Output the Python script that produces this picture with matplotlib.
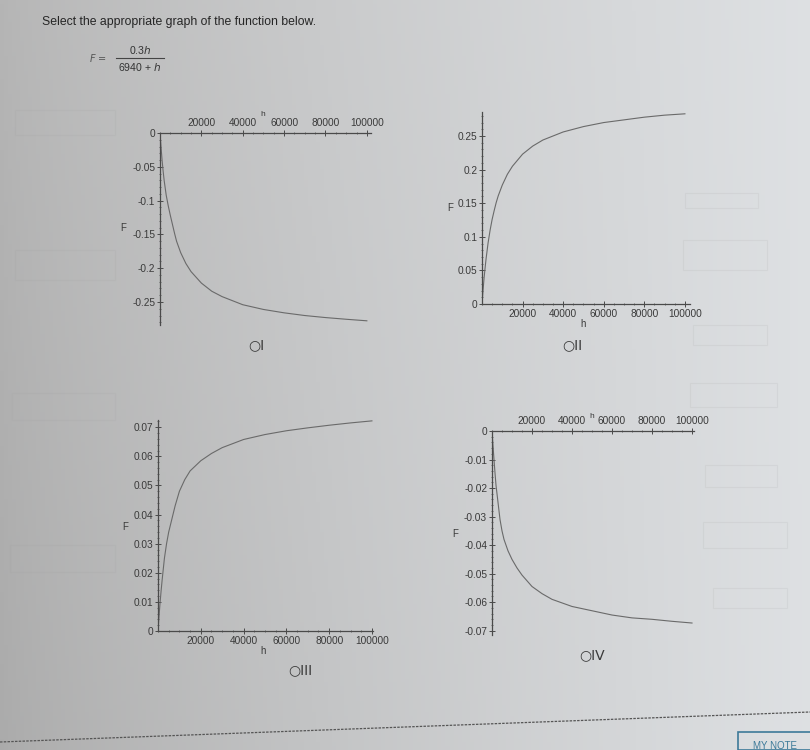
import numpy as np
import matplotlib
matplotlib.use("Agg")
import matplotlib.pyplot as plt
from matplotlib.lines import Line2D
from matplotlib.patches import Rectangle
from matplotlib.ticker import MultipleLocator

plt.rcParams['font.family'] = ['Liberation Sans', 'DejaVu Sans']

# ---------------- data ----------------
h_vals = [0, 250, 500, 1000, 1500, 2000, 3000, 4000, 5000, 6000, 7000, 8000, 10000, 12500, 15000,
          20000, 25000, 30000, 40000, 50000, 60000, 70000, 80000, 90000, 100000]

F_I = [0, -0.011, -0.021, -0.040, -0.056, -0.070, -0.092, -0.108, -0.122, -0.135, -0.148, -0.160,
       -0.177, -0.193, -0.205, -0.222, -0.234, -0.242, -0.254, -0.261, -0.266, -0.270, -0.273,
       -0.2755, -0.2778]
F_II = [0, 0.010, 0.020, 0.038, 0.053, 0.067, 0.091, 0.110, 0.126, 0.139, 0.151, 0.161,
        0.177, 0.193, 0.205, 0.223, 0.235, 0.244, 0.256, 0.264, 0.270, 0.274, 0.278, 0.281, 0.283]
F_III = [0, 0.0027, 0.0053, 0.010, 0.0142, 0.018, 0.025, 0.030, 0.034, 0.037, 0.040, 0.043,
         0.048, 0.052, 0.055, 0.0585, 0.0610, 0.0630, 0.0658, 0.0675, 0.0688, 0.0698, 0.0707,
         0.0715, 0.0722]
F_IV = [0, -0.0027, -0.0052, -0.010, -0.0147, -0.019, -0.025, -0.031, -0.035, -0.038, -0.040,
        -0.042, -0.045, -0.048, -0.0505, -0.0545, -0.057, -0.059, -0.0615, -0.063, -0.0645,
        -0.0655, -0.066, -0.0667, -0.0673]

x_ticks = [20000, 40000, 60000, 80000, 100000]
x_ticklabels = ["20000", "40000", "60000", "80000", "100000"]

y_ticks_I = [0, -0.05, -0.1, -0.15, -0.2, -0.25]
y_labels_I = ["0", "-0.05", "-0.1", "-0.15", "-0.2", "-0.25"]
y_ticks_II = [0, 0.05, 0.1, 0.15, 0.2, 0.25]
y_labels_II = ["0", "0.05", "0.1", "0.15", "0.2", "0.25"]
y_ticks_III = [0, 0.01, 0.02, 0.03, 0.04, 0.05, 0.06, 0.07]
y_labels_III = ["0", "0.01", "0.02", "0.03", "0.04", "0.05", "0.06", "0.07"]
y_ticks_IV = [0, -0.01, -0.02, -0.03, -0.04, -0.05, -0.06, -0.07]
y_labels_IV = ["0", "-0.01", "-0.02", "-0.03", "-0.04", "-0.05", "-0.06", "-0.07"]

option_labels = ["I", "II", "III", "IV"]

# ---------------- figure ----------------
W, H = 810, 750
fig = plt.figure(figsize=(W / 100, H / 100), dpi=100)

# photographed-screen background (light gradient)
bg = fig.add_axes([0, 0, 1, 1], zorder=-10)
gx = np.linspace(0, 1, 200)[None, :]
gy = np.linspace(0, 1, 200)[:, None]
shade = 0.67 + 0.20 * gx ** 0.8 + 0.04 * (1 - gy) * (1 - gx)
img = np.dstack([shade, shade + 0.01 * gx, shade + 0.02 * gx])
bg.imshow(np.clip(img, 0, 1), extent=[0, 1, 0, 1], aspect='auto', origin='upper')
bg.set_xlim(0, 1)
bg.set_ylim(0, 1)
bg.axis('off')

def px(x, y):
    return x / W, 1 - y / H

def add_ax(x0, y_top, x1, y_bot):
    return fig.add_axes([x0 / W, 1 - y_bot / H, (x1 - x0) / W, (y_bot - y_top) / H])

TXT = '#3a3a3a'
AX = '#4a4a4a'
CURVE = '#6a6a6a'
TFS = 7.3

# title + formula
fig.text(*px(42, 22), "Select the appropriate graph of the function below.",
         fontsize=8.8, color='#262626', va='center', ha='left')
fig.text(*px(89, 58), r"$F$ =", fontsize=7, color='#555555', va='center', ha='left',
         fontfamily='DejaVu Sans')
fig.text(*px(140, 50), r"0.3$h$", fontsize=7.6, color='#333333', va='center', ha='center')
fig.text(*px(140, 67), r"6940 + $h$", fontsize=7.6, color='#333333', va='center', ha='center')
fig.add_artist(Line2D([116 / W, 164 / W], [1 - 58 / H, 1 - 58 / H], color='#444444', lw=0.8))


def style(ax, xlim, ylim, yt, yl, top_axis, yminor):
    ax.set_facecolor('none')
    ax.set_xlim(*xlim)
    ax.set_ylim(*ylim)
    for s in ['right', 'top', 'bottom', 'left']:
        ax.spines[s].set_visible(False)
    ax.spines['left'].set_visible(True)
    ax.spines['left'].set_color(AX)
    ax.spines['left'].set_linewidth(0.9)
    hs = 'top' if top_axis else 'bottom'
    ax.spines[hs].set_visible(True)
    ax.spines[hs].set_color(AX)
    ax.spines[hs].set_linewidth(0.9)
    if top_axis:
        ax.xaxis.tick_top()
    else:
        ax.xaxis.tick_bottom()
    ax.set_xticks(x_ticks)
    ax.set_xticklabels(x_ticklabels)
    ax.set_yticks(yt)
    ax.set_yticklabels(yl)
    ax.xaxis.set_minor_locator(MultipleLocator(5000))
    ax.yaxis.set_minor_locator(MultipleLocator(yminor))
    ax.tick_params(which='major', direction='inout', length=4, width=0.7,
                   colors=AX, labelcolor=TXT, labelsize=TFS, pad=1.5)
    ax.tick_params(which='minor', direction='inout', length=2, width=0.5, colors=AX)


lw = 0.8
# Plot I
axI = add_ax(160, 133, 371, 325)
axI.plot(h_vals, F_I, color=CURVE, lw=lw)
style(axI, (0, 102000), (-0.284, 0), y_ticks_I, y_labels_I, True, 0.01)
fig.text(*px(263, 114), "h", fontsize=6, color=TXT, ha='center', va='center')
fig.text(*px(123, 228), "F", fontsize=7, color=TXT, ha='center', va='center')

# Plot II
axII = add_ax(482, 112, 690, 304)
axII.plot(h_vals, F_II, color=CURVE, lw=lw)
style(axII, (0, 102500), (0, 0.2857), y_ticks_II, y_labels_II, False, 0.01)
fig.text(*px(583, 324), "h", fontsize=7, color=TXT, ha='center', va='center')
fig.text(*px(450, 208), "F", fontsize=7, color=TXT, ha='center', va='center')

# Plot III
axIII = add_ax(158, 420, 373, 631)
axIII.plot(h_vals, F_III, color=CURVE, lw=lw)
style(axIII, (0, 100500), (0, 0.0725), y_ticks_III, y_labels_III, False, 0.002)
fig.text(*px(263, 651), "h", fontsize=7, color=TXT, ha='center', va='center')
fig.text(*px(125, 527), "F", fontsize=7, color=TXT, ha='center', va='center')

# Plot IV
axIV = add_ax(492, 431, 694, 635)
axIV.plot(h_vals, F_IV, color=CURVE, lw=lw)
style(axIV, (0, 101000), (-0.0715, 0), y_ticks_IV, y_labels_IV, True, 0.002)
fig.text(*px(592, 416), "h", fontsize=6, color=TXT, ha='center', va='center')
fig.text(*px(455, 534), "F", fontsize=7, color=TXT, ha='center', va='center')

# radio options
opt_pos = [(256, 345), (572, 345), (300, 670), (592, 655)]
for (x, y), lab in zip(opt_pos, option_labels):
    fig.text(*px(x, y), "\u25CB" + lab, fontsize=10, color='#3a3a3a', ha='center', va='center',
             fontfamily=['DejaVu Sans'])

# faint show-through boxes from the page
for (x0, y0, x1, y1) in [(685, 193, 758, 208), (683, 240, 767, 270), (693, 325, 767, 345),
                         (690, 383, 777, 407), (705, 465, 777, 487), (703, 522, 787, 548),
                         (713, 588, 787, 608), (15, 110, 115, 135), (15, 250, 115, 280),
                         (12, 393, 115, 420), (10, 545, 115, 572)]:
    fig.add_artist(Rectangle((x0 / W, 1 - y1 / H), (x1 - x0) / W, (y1 - y0) / H,
                             fill=False, edgecolor='#9a9a9a', alpha=0.12, lw=0.8))

# dashed separator at bottom
fig.add_artist(Line2D([0, 1], [1 - 742 / H, 1 - 712 / H], color='#555555', lw=0.9,
                      linestyle=(0, (2, 1))))

# MY NOTE box
fig.add_artist(Rectangle((738 / W, 0), 80 / W, 18 / H, fill=False, edgecolor='#3d7a99', lw=1.2))
fig.text(*px(775, 746), "MY NOTE", fontsize=7, color='#3d7a99', ha='center', va='center')

fig.savefig("out.png", dpi=100)
